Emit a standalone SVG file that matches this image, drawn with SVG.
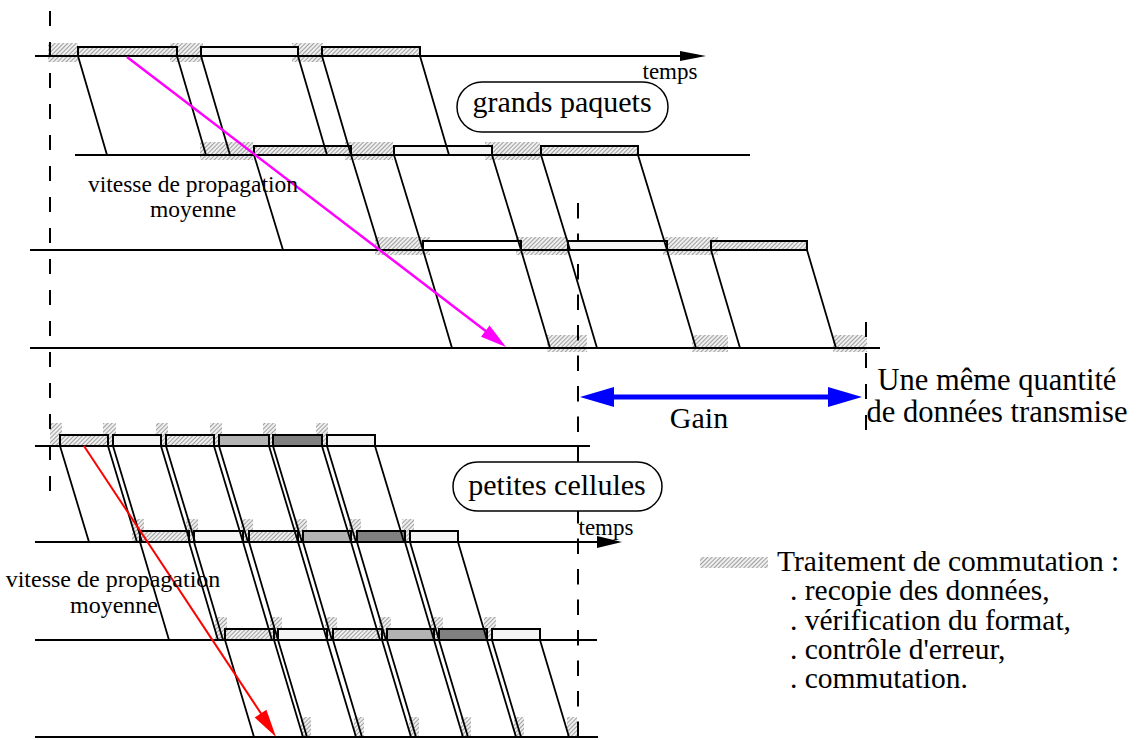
<svg xmlns="http://www.w3.org/2000/svg" width="1137" height="740" viewBox="0 0 1137 740">
<defs>
<pattern id="h" width="3" height="3" patternUnits="userSpaceOnUse" patternTransform="rotate(45)"><rect width="3" height="3" fill="#efefef"/><rect width="1" height="3" fill="#a0a0a0"/></pattern>
</defs>
<style>
.hz{stroke:#000;stroke-width:2;fill:none}
.sl{stroke:#000;stroke-width:1.8;fill:none}
.dash{stroke:#000;stroke-width:2;fill:none}
.pk{stroke:#000;stroke-width:2}
.ph{fill:url(#h)}
.pl{fill:#f4f4f4}
.pw{fill:#fff}
.pm{fill:#b3b3b3}
.pd{fill:#808080}
.hat{fill:url(#h);stroke:none}
.t{font-family:"Liberation Serif","Times New Roman",serif;fill:#000}
.box{fill:#fff;stroke:#000;stroke-width:1.5}
</style>
<rect width="1137" height="740" fill="#fff"/>

<g id="hatches">
<rect class="hat" x="48" y="43" width="30" height="19"/>
<rect class="hat" x="170" y="43" width="33" height="19"/>
<rect class="hat" x="292" y="43" width="31" height="19"/>
<rect class="hat" x="200" y="142" width="53" height="18"/>
<rect class="hat" x="345" y="142" width="48" height="18"/>
<rect class="hat" x="485" y="142" width="55" height="18"/>
<rect class="hat" x="375" y="237" width="55" height="18"/>
<rect class="hat" x="516" y="237" width="52" height="18"/>
<rect class="hat" x="663" y="237" width="55" height="18"/>
<rect class="hat" x="547" y="335" width="40" height="17"/>
<rect class="hat" x="692" y="335" width="36" height="17"/>
<rect class="hat" x="833" y="335" width="34" height="17"/>
<rect class="hat" x="50" y="423" width="12" height="23"/>
<rect class="hat" x="103" y="423" width="13" height="23"/>
<rect class="hat" x="156" y="423" width="12" height="23"/>
<rect class="hat" x="210" y="423" width="12" height="23"/>
<rect class="hat" x="263" y="423" width="13" height="23"/>
<rect class="hat" x="316" y="423" width="12" height="23"/>
<rect class="hat" x="132" y="519" width="12" height="23"/>
<rect class="hat" x="186" y="519" width="12" height="23"/>
<rect class="hat" x="241" y="519" width="12" height="23"/>
<rect class="hat" x="295" y="519" width="12" height="23"/>
<rect class="hat" x="349" y="519" width="12" height="23"/>
<rect class="hat" x="402" y="519" width="12" height="23"/>
<rect class="hat" x="215" y="617" width="12" height="23"/>
<rect class="hat" x="270" y="617" width="12" height="23"/>
<rect class="hat" x="325" y="617" width="12" height="23"/>
<rect class="hat" x="379" y="617" width="12" height="23"/>
<rect class="hat" x="431" y="617" width="12" height="23"/>
<rect class="hat" x="484" y="617" width="12" height="23"/>
<rect class="hat" x="301" y="717" width="10" height="20"/>
<rect class="hat" x="354" y="717" width="10" height="20"/>
<rect class="hat" x="409" y="717" width="10" height="20"/>
<rect class="hat" x="461" y="717" width="10" height="20"/>
<rect class="hat" x="514" y="717" width="10" height="20"/>
<rect class="hat" x="567" y="717" width="10" height="20"/>
</g>

<g id="time-axes">
<line class="hz" x1="35" y1="56" x2="684" y2="56"/>
<polygon points="680,51 706,56 680,61" fill="#000"/>
<line class="hz" x1="75" y1="155" x2="750" y2="155"/>
<line class="hz" x1="30" y1="250" x2="807" y2="250"/>
<line class="hz" x1="30" y1="348" x2="880" y2="348"/>
<line class="hz" x1="35" y1="446" x2="590" y2="446"/>
<line class="hz" x1="35" y1="542" x2="600" y2="542"/>
<polygon points="597,536 622,542 597,548" fill="#000"/>
<line class="hz" x1="35" y1="640" x2="597" y2="640"/>
<line class="hz" x1="35" y1="737" x2="598" y2="737"/>
</g>

<g id="dashed-markers">
<line class="dash" x1="50" y1="11" x2="50" y2="491" stroke-dasharray="15 16"/>
<line class="dash" x1="578" y1="203" x2="578" y2="740" stroke-dasharray="15.5 15"/>
<line class="dash" x1="866" y1="322" x2="866" y2="432" stroke-dasharray="15 16"/>
</g>

<g id="packets">
<rect class="pk ph" x="78" y="47" width="99" height="9"/>
<rect class="pk pl" x="201" y="47" width="97" height="9"/>
<rect class="pk ph" x="322" y="47" width="98" height="9"/>
<rect class="pk ph" x="254" y="146" width="97" height="9"/>
<rect class="pk pl" x="394" y="146" width="98" height="9"/>
<rect class="pk ph" x="541" y="146" width="97" height="9"/>
<rect class="pk pw" x="423" y="241" width="98" height="9"/>
<rect class="pk pl" x="568" y="241" width="99" height="9"/>
<rect class="pk ph" x="711" y="241" width="96" height="9"/>
</g>

<g id="cells">
<rect class="pk ph" x="60" y="435" width="48" height="11"/>
<rect class="pk pl" x="113" y="435" width="48" height="11"/>
<rect class="pk ph" x="166" y="435" width="48" height="11"/>
<rect class="pk pm" x="219" y="435" width="50" height="11"/>
<rect class="pk pd" x="273" y="435" width="49" height="11"/>
<rect class="pk pl" x="327" y="435" width="48" height="11"/>
<rect class="pk ph" x="140" y="531" width="49" height="11"/>
<rect class="pk pl" x="194" y="531" width="49" height="11"/>
<rect class="pk ph" x="249" y="531" width="49" height="11"/>
<rect class="pk pm" x="303" y="531" width="48" height="11"/>
<rect class="pk pd" x="357" y="531" width="48" height="11"/>
<rect class="pk pl" x="410" y="531" width="48" height="11"/>
<rect class="pk ph" x="225" y="629" width="49" height="11"/>
<rect class="pk pl" x="278" y="629" width="49" height="11"/>
<rect class="pk ph" x="333" y="629" width="49" height="11"/>
<rect class="pk pm" x="387" y="629" width="47" height="11"/>
<rect class="pk pd" x="439" y="629" width="48" height="11"/>
<rect class="pk pl" x="492" y="629" width="48" height="11"/>
</g>

<g id="propagation-lines">
<path class="sl" d="M78,56L107,155M177,56L206,155M201,56L230,155M298,56L327,155M322,56L351,155M420,56L449,155"/>
<path class="sl" d="M254,155L283,250M351,155L380,250M394,155L423,250M492,155L521,250M541,155L570,250M638,155L667,250"/>
<path class="sl" d="M423,250L452,348M521,250L550,348M568,250L597,348M667,250L696,348M711,250L740,348M807,250L836,348"/>
<path class="sl" d="M60,446L89,542M108,446L137,542M113,446L142,542M161,446L190,542M166,446L195,542M214,446L243,542M219,446L248,542M269,446L298,542M273,446L302,542M322,446L351,542M327,446L356,542M375,446L404,542"/>
<path class="sl" d="M140,542L169,640M189,542L218,640M194,542L223,640M243,542L272,640M249,542L278,640M298,542L327,640M303,542L332,640M351,542L380,640M357,542L386,640M405,542L434,640M410,542L439,640M458,542L487,640"/>
<path class="sl" d="M225,640L254,737M274,640L303,737M278,640L307,737M327,640L356,737M333,640L362,737M382,640L411,737M387,640L416,737M434,640L463,737M439,640L468,737M487,640L516,737M492,640L521,737M540,640L569,737"/>
</g>

<g id="speed-arrows">
<line x1="127" y1="57" x2="487" y2="332" stroke="#ff00ff" stroke-width="2.5"/>
<polygon points="506,347 481,336.8 489.6,325.6" fill="#ff00ff"/>
<line x1="84" y1="446" x2="262" y2="715" stroke="#ff0000" stroke-width="2"/>
<polygon points="276,737 254.7,717.4 266.4,709.7" fill="#ff0000"/>
</g>

<g id="gain-arrow">
<line x1="610" y1="397" x2="832" y2="397" stroke="#0000ff" stroke-width="5"/>
<polygon points="580,397 614,387 614,407" fill="#0000ff"/>
<polygon points="862,397 828,387 828,407" fill="#0000ff"/>
</g>

<g id="label-grands-paquets">
<rect class="box" x="457" y="82" width="211" height="50" rx="25"/>
<text class="t" x="562" y="112" font-size="30" text-anchor="middle">grands paquets</text>
</g>
<g id="label-petites-cellules">
<rect class="box" x="453" y="462" width="209" height="49" rx="24.5"/>
<text class="t" x="557" y="495" font-size="30" text-anchor="middle">petites cellules</text>
</g>

<g id="texts">
<text class="t" x="670" y="79" font-size="23" text-anchor="middle">temps</text>
<text class="t" x="606" y="535" font-size="23" text-anchor="middle">temps</text>
<text class="t" x="193" y="192" font-size="23.5" text-anchor="middle">vitesse de propagation</text>
<text class="t" x="193" y="217" font-size="23.5" text-anchor="middle">moyenne</text>
<text class="t" x="113" y="587" font-size="24" text-anchor="middle">vitesse de propagation</text>
<text class="t" x="114" y="613" font-size="24" text-anchor="middle">moyenne</text>
<text class="t" x="699" y="428" font-size="30" text-anchor="middle">Gain</text>
<text class="t" x="997" y="390" font-size="30.5" text-anchor="middle">Une même quantité</text>
<text class="t" x="997" y="422" font-size="30.5" text-anchor="middle">de données transmise</text>
</g>

<g id="legend">
<rect class="hat" x="700" y="557" width="68" height="11"/>
<text class="t" x="777" y="571" font-size="29.5">Traitement de commutation :</text>
<text class="t" x="790" y="600" font-size="29.5">. recopie des données,</text>
<text class="t" x="790" y="630" font-size="29.5">. vérification du format,</text>
<text class="t" x="790" y="659" font-size="29.5">. contrôle d'erreur,</text>
<text class="t" x="790" y="688" font-size="29.5">. commutation.</text>
</g>
</svg>
